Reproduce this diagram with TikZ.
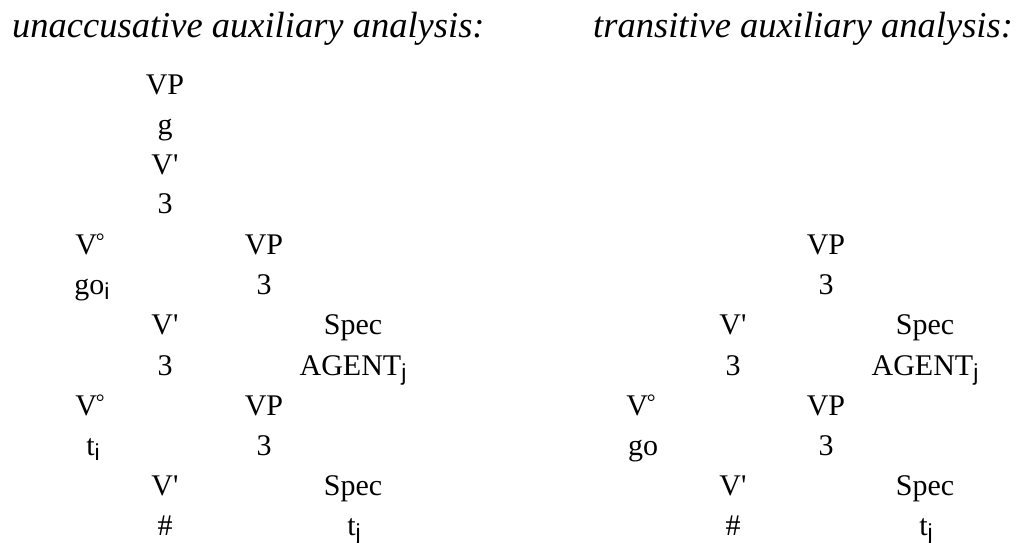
\documentclass[tikz,border=0pt]{standalone}
\usepackage{fontspec}
\setmainfont{Liberation Serif}[Ligatures=TeXOff]
\newfontfamily\subfnt{Liberation Sans}
\newcommand{\sbx}[1]{\raisebox{-5bp}{\subfnt\fontsize{23bp}{26bp}\selectfont #1}}
\newcommand{\dgr}{\kern-1bp\raisebox{6bp}{\fontsize{22bp}{22bp}\selectfont °}}
\begin{document}
\begin{tikzpicture}[x=1bp,y=-1bp,
  lab/.style={anchor=base,inner sep=0pt,font=\fontsize{30bp}{36bp}\selectfont},
  ttl/.style={anchor=base west,inner sep=0pt,font=\fontsize{36.5bp}{44bp}\selectfont\itshape}]
\useasboundingbox (0,0) rectangle (1020,543);
\node[ttl] (t1) at (12,38) {unaccusative auxiliary analysis:};
\node[ttl] (t2) at (593,38) {transitive auxiliary analysis:};
% left tree
\node[lab] (a1) at (165,95) {VP};
\node[lab] (a2) at (165,135) {g};
\node[lab] (a3) at (165,175) {V'};
\node[lab] (a4) at (165,214) {3};
\node[lab] (a5) at (90,255) {V\dgr};
\node[lab] (a6) at (264,255) {VP};
\node[lab] (a7) at (92,295) {go\sbx{i}};
\node[lab] (a8) at (264,295) {3};
\node[lab] (a9) at (165,335) {V'};
\node[lab] (a10) at (353,335) {Spec};
\node[lab] (a11) at (165,376) {3};
\node[lab] (a12) at (353,376) {AGENT\sbx{j}};
\node[lab] (a13) at (90,415) {V\dgr};
\node[lab] (a14) at (264,415) {VP};
\node[lab] (a15) at (93,455) {t\sbx{i}};
\node[lab] (a16) at (264,455) {3};
\node[lab] (a17) at (165,495) {V'};
\node[lab] (a18) at (353,495) {Spec};
\node[lab] (a19) at (165,535) {\#};
\node[lab] (a20) at (354,535) {t\sbx{j}};
% right tree
\node[lab] (b1) at (826,255) {VP};
\node[lab] (b2) at (826,295) {3};
\node[lab] (b3) at (733,335) {V'};
\node[lab] (b4) at (925,335) {Spec};
\node[lab] (b5) at (733,376) {3};
\node[lab] (b6) at (925,376) {AGENT\sbx{j}};
\node[lab] (b7) at (641,415) {V\dgr};
\node[lab] (b8) at (826,415) {VP};
\node[lab] (b9) at (643,455) {go};
\node[lab] (b10) at (826,455) {3};
\node[lab] (b11) at (733,495) {V'};
\node[lab] (b12) at (925,495) {Spec};
\node[lab] (b13) at (733,535) {\#};
\node[lab] (b14) at (926,535) {t\sbx{j}};
\end{tikzpicture}
\end{document}
